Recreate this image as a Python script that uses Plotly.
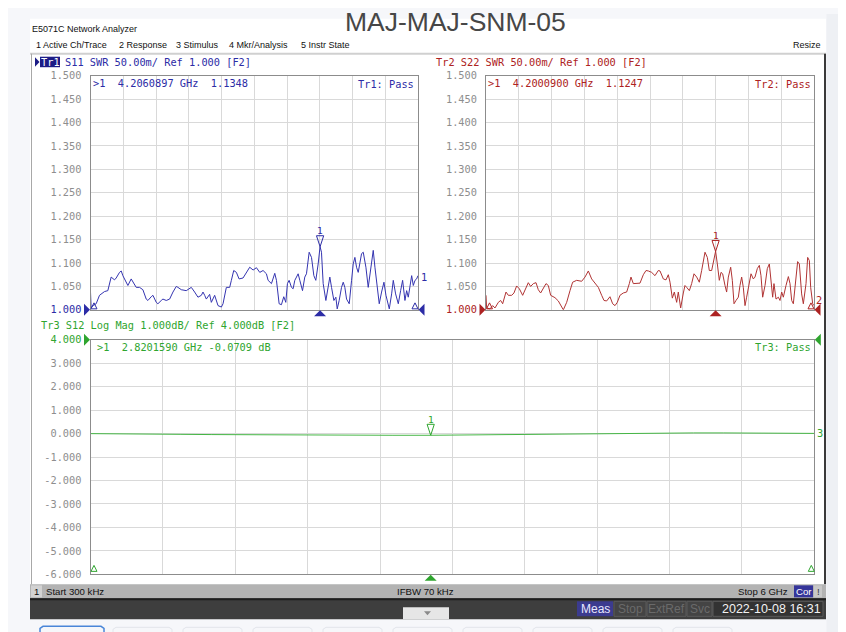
import plotly.graph_objects as go

W, H = 846, 632
OFF = 8          # the page body adds an 8px margin
YS, YB = 0.9817, 5.4   # observed vertical mapping of the photographed page (page y -> picture y)

# ---------------- data ----------------
s11_freq_ghz = [0.0003, 0.012, 0.043, 0.104, 0.165, 0.257, 0.318, 0.349, 0.379, 0.440, 0.471, 0.532, 0.563,
                0.593, 0.654, 0.685, 0.746, 0.777, 0.838, 0.899, 0.960, 1.021, 1.052, 1.113, 1.144, 1.205,
                1.235, 1.297, 1.327, 1.388, 1.450, 1.511, 1.572, 1.602, 1.664, 1.755, 1.816, 1.847, 1.908,
                1.969, 2.031, 2.061, 2.092, 2.122, 2.183, 2.214, 2.275, 2.336, 2.398, 2.428, 2.489, 2.550,
                2.581, 2.624, 2.673, 2.722, 2.795, 2.856, 2.917, 2.979, 3.040, 3.101, 3.162, 3.223, 3.254,
                3.315, 3.376, 3.407, 3.456, 3.498, 3.541, 3.578, 3.608, 3.639, 3.682, 3.712, 3.743, 3.774,
                3.804, 3.835, 3.884, 3.926, 3.957, 4.006, 4.049, 4.092, 4.128, 4.171, 4.206, 4.232, 4.263,
                4.312, 4.355, 4.385, 4.416, 4.459, 4.495, 4.520, 4.556, 4.599, 4.630, 4.660, 4.691, 4.740,
                4.783, 4.813, 4.844, 4.874, 4.905, 4.966, 4.997, 5.046, 5.088, 5.119, 5.150, 5.180, 5.211,
                5.254, 5.290, 5.333, 5.376, 5.413, 5.474, 5.517, 5.547, 5.590, 5.639, 5.682, 5.718, 5.761,
                5.792, 5.822, 5.853, 5.884, 5.914, 5.945, 5.975, 6.000]
s11_swr = [1.038, 1.004, 1.009, 1.013, 1.031, 1.039, 1.041, 1.056, 1.070, 1.064, 1.068, 1.080, 1.083,
           1.073, 1.059, 1.052, 1.066, 1.059, 1.048, 1.048, 1.043, 1.023, 1.020, 1.028, 1.031, 1.016,
           1.013, 1.020, 1.023, 1.020, 1.023, 1.038, 1.050, 1.048, 1.043, 1.041, 1.045, 1.048, 1.038,
           1.027, 1.031, 1.038, 1.031, 1.023, 1.033, 1.016, 1.031, 1.009, 1.006, 1.013, 1.048, 1.048,
           1.063, 1.084, 1.080, 1.066, 1.068, 1.080, 1.091, 1.085, 1.090, 1.080, 1.084, 1.077, 1.063,
           1.056, 1.078, 1.063, 1.013, 1.011, 1.028, 1.016, 1.056, 1.063, 1.048, 1.045, 1.063, 1.070,
           1.077, 1.063, 1.041, 1.070, 1.077, 1.123, 1.112, 1.073, 1.063, 1.098, 1.135, 1.123, 1.056,
           1.020, 1.048, 1.070, 1.048, 1.020, 1.027, 1.002, 1.020, 1.048, 1.059, 1.048, 1.023, 1.013,
           1.063, 1.098, 1.112, 1.091, 1.080, 1.120, 1.123, 1.091, 1.048, 1.077, 1.105, 1.127, 1.091,
           1.048, 1.013, 1.038, 1.059, 1.031, 1.002, 1.034, 1.063, 1.034, 1.013, 1.041, 1.063, 1.020,
           1.041, 1.027, 1.048, 1.073, 1.052, 1.063, 1.066, 1.073]

s22_freq_ghz = [0.0003, 0.012, 0.073, 0.122, 0.165, 0.226, 0.268, 0.305, 0.366, 0.409, 0.470, 0.512, 0.561,
                0.610, 0.671, 0.713, 0.774, 0.817, 0.866, 0.915, 0.957, 1.000, 1.049, 1.098, 1.140, 1.183,
                1.262, 1.323, 1.415, 1.476, 1.537, 1.585, 1.659, 1.750, 1.811, 1.872, 1.933, 1.994, 2.055,
                2.116, 2.159, 2.207, 2.268, 2.317, 2.360, 2.402, 2.451, 2.512, 2.573, 2.622, 2.652, 2.695,
                2.756, 2.817, 2.878, 2.927, 2.970, 3.030, 3.091, 3.152, 3.183, 3.244, 3.293, 3.335, 3.366,
                3.409, 3.445, 3.488, 3.518, 3.561, 3.610, 3.640, 3.671, 3.720, 3.762, 3.805, 3.854, 3.902,
                3.945, 4.006, 4.049, 4.085, 4.128, 4.171, 4.200, 4.232, 4.268, 4.299, 4.329, 4.372, 4.402,
                4.433, 4.476, 4.506, 4.537, 4.573, 4.616, 4.646, 4.677, 4.707, 4.738, 4.768, 4.817, 4.848,
                4.890, 4.921, 4.963, 5.000, 5.030, 5.061, 5.104, 5.146, 5.183, 5.207, 5.244, 5.268, 5.305,
                5.348, 5.378, 5.409, 5.439, 5.488, 5.531, 5.561, 5.592, 5.622, 5.671, 5.701, 5.732, 5.774,
                5.805, 5.854, 5.884, 5.915, 5.939, 5.976, 6.000]
s22_swr = [1.031, 1.004, 1.002, 1.009, 1.004, 1.016, 1.020, 1.013, 1.038, 1.031, 1.031, 1.036, 1.051,
           1.045, 1.031, 1.041, 1.058, 1.050, 1.056, 1.058, 1.043, 1.036, 1.045, 1.056, 1.052, 1.031,
           1.026, 1.019, 1.000, 1.016, 1.041, 1.059, 1.063, 1.061, 1.070, 1.083, 1.066, 1.057, 1.048,
           1.031, 1.020, 1.019, 1.028, 1.013, 1.009, 1.016, 1.031, 1.036, 1.038, 1.056, 1.070, 1.056,
           1.056, 1.057, 1.075, 1.084, 1.083, 1.080, 1.073, 1.084, 1.083, 1.066, 1.064, 1.075, 1.059,
           1.025, 1.038, 1.016, 1.038, 1.004, 1.036, 1.052, 1.048, 1.041, 1.056, 1.077, 1.070, 1.059,
           1.084, 1.123, 1.112, 1.084, 1.084, 1.105, 1.125, 1.098, 1.063, 1.080, 1.077, 1.052, 1.038,
           1.070, 1.091, 1.063, 1.013, 1.020, 1.027, 1.052, 1.070, 1.048, 1.009, 1.027, 1.059, 1.077,
           1.066, 1.070, 1.088, 1.095, 1.073, 1.027, 1.052, 1.088, 1.098, 1.070, 1.027, 1.056, 1.023,
           1.027, 1.020, 1.038, 1.027, 1.052, 1.071, 1.056, 1.020, 1.013, 1.066, 1.103, 1.098, 1.034,
           1.013, 1.056, 1.112, 1.105, 1.048, 1.013, 1.009]

s12_freq_ghz = [0.0003, 0.25, 0.5, 0.75, 1.0, 1.25, 1.5, 1.75, 2.0, 2.25, 2.5, 2.82, 3.0, 3.25, 3.5,
                3.75, 4.0, 4.25, 4.5, 4.75, 5.0, 5.25, 5.5, 5.75, 6.0]
s12_db = [0.00, -0.02, -0.03, -0.03, -0.04, -0.05, -0.05, -0.06, -0.06, -0.06, -0.07, -0.07, -0.06, -0.04,
          -0.03, -0.01, 0.00, 0.01, 0.02, 0.02, 0.03, 0.03, 0.02, 0.02, 0.01]

f_start, f_stop = 0.0003, 6.0
swr_ticks = [1.500, 1.450, 1.400, 1.350, 1.300, 1.250, 1.200, 1.150, 1.100, 1.050, 1.000]
db_ticks = [4, 3, 2, 1, 0, -1, -2, -3, -4, -5, -6]

mk_s11 = (4.2060897, 1.1348)
mk_s22 = (4.2000900, 1.1247)
mk_s12 = (2.8201590, -0.0709)

# ---------------- styling ----------------
BLUE = '#2c2ca6'
RED = '#ad2222'
GREEN = '#2fa52f'
BLUE_T = '#3434b0'
RED_T = '#b03434'
GREEN_T = '#45b545'
GRID = '#d9d9d9'
FRAME = '#8c8c8c'
TICKC = '#8e8e8e'
MONO = 'DejaVu Sans Mono'
SANS = 'Liberation Sans'
MS = 10.3
SS = 9.0

P1 = dict(x0=90.5, x1=418, y0=75, y1=309.3, yr=(1.0, 1.5))
P2 = dict(x0=486, x1=814, y0=75, y1=309.3, yr=(1.0, 1.5))
P3 = dict(x0=90.5, x1=814.3, y0=339.3, y1=574, yr=(-6, 4))

XMIN, XMAX = OFF, 846
YMIN, YMAX = OFF * YS + YB + 0.1, (OFF + H) * YS + YB - 0.3


def cx(x):
    return min(max(x, XMIN), XMAX)


def cy(y):
    return min(max(y, YMIN), YMAX)


def pxx(x):
    return (cx(x) - OFF) / W


def pyy(y):
    yp = (cy(y) - YB) / YS
    return 1 - (yp - OFF) / H


xgrid = [f_start + i * (f_stop - f_start) / 10 for i in range(11)]


def xax(P, anchor):
    return dict(domain=[pxx(P['x0']), pxx(P['x1'])], range=[f_start, f_stop], tickvals=xgrid,
                showticklabels=False, ticks='', showgrid=True, gridcolor=GRID, gridwidth=1,
                zeroline=False, showline=True, linecolor=FRAME, linewidth=1, mirror=True,
                anchor=anchor, fixedrange=True)


def yax(P, tv, tt, anchor):
    return dict(domain=[pyy(P['y1']), pyy(P['y0'])], range=list(P['yr']), tickvals=tv, ticktext=tt,
                ticks='', showgrid=True, gridcolor=GRID, gridwidth=1, zeroline=False, showline=True,
                linecolor=FRAME, linewidth=1, mirror=True,
                tickfont=dict(family=MONO, size=MS, color=TICKC), ticklabelstandoff=6,
                anchor=anchor, fixedrange=True)


def colored(s, c):
    return f'<span style="color:{c}">{s}</span>'


swr_text1 = [f'{v:.3f}' if v != 1.0 else colored(f'{v:.3f}', BLUE) for v in swr_ticks]
swr_text2 = [f'{v:.3f}' if v != 1.0 else colored(f'{v:.3f}', RED) for v in swr_ticks]
db_text = [f'{v:.3f}' if v != 4 else colored(f'{v:.3f}', GREEN) for v in db_ticks]

fig = go.Figure()
fig.add_trace(go.Scatter(x=s11_freq_ghz, y=s11_swr, xaxis='x', yaxis='y', mode='lines',
                         line=dict(color=BLUE_T, width=1), hoverinfo='skip'))
fig.add_trace(go.Scatter(x=s22_freq_ghz, y=s22_swr, xaxis='x2', yaxis='y2', mode='lines',
                         line=dict(color=RED_T, width=1), hoverinfo='skip'))
fig.add_trace(go.Scatter(x=s12_freq_ghz, y=s12_db, xaxis='x3', yaxis='y3', mode='lines',
                         line=dict(color=GREEN_T, width=1), hoverinfo='skip'))

shapes = []
ann = []


def rect(x0, y0, x1, y1, fill, line=None, lw=0, layer='below'):
    shapes.append(dict(type='rect', xref='paper', yref='paper', x0=pxx(x0), x1=pxx(x1),
                       y0=pyy(y1), y1=pyy(y0), fillcolor=fill,
                       line=dict(width=lw, color=line if line else fill), layer=layer))


def hline(x0, x1, y, color, lw=1):
    shapes.append(dict(type='line', xref='paper', yref='paper', x0=pxx(x0), x1=pxx(x1),
                       y0=pyy(y), y1=pyy(y), line=dict(color=color, width=lw), layer='below'))


def vline(x, y0, y1, color, lw=1, layer='below'):
    shapes.append(dict(type='line', xref='paper', yref='paper', x0=pxx(x), x1=pxx(x),
                       y0=pyy(y0), y1=pyy(y1), line=dict(color=color, width=lw), layer=layer))


def poly(pts, fill, line=None, lw=1, closed=True, layer='above'):
    d = 'M ' + ' L '.join(f'{pxx(a):.5f},{pyy(b):.5f}' for a, b in pts) + (' Z' if closed else '')
    shapes.append(dict(type='path', xref='paper', yref='paper', path=d,
                       fillcolor=fill if fill else 'rgba(0,0,0,0)',
                       line=dict(color=line if line else fill, width=lw if line else 0), layer=layer))


def txt(x, y, s, size=10, color='#000', family=SANS, xanchor='left', yanchor='middle'):
    ann.append(dict(x=pxx(x), y=pyy(y), xref='paper', yref='paper', text=s, showarrow=False,
                    xanchor=xanchor, yanchor=yanchor, borderpad=0,
                    font=dict(size=size, color=color, family=family)))


# ---------- page / window chrome ----------
rect(30, 18, 826, 584, '#ffffff')
hline(30, 826, 53, '#d0d0d0', 2)
vline(31.5, 53, 584, '#a8a8a8', 1)
vline(825, 53, 584, '#3a3a3a', 2)
rect(826.5, 8, 846, 640, '#eef0f4')

# status bars
rect(30, 584, 826, 598, '#b3b3b3')
rect(31, 585, 42, 597, '#d2d2d2')
rect(794, 585, 813, 597, '#35359a')
rect(814, 585, 822, 597, '#c8c8c8')
rect(30, 598, 826, 619, '#3e3e3e')
hline(30, 826, 599, '#1e1e1e', 2)
rect(577, 601, 613, 616, '#3b3b8f')
rect(614, 601, 646, 616, '#444444', '#5a5a5a', 1)
rect(647, 601, 686, 616, '#444444', '#5a5a5a', 1)
rect(687, 601, 712, 616, '#444444', '#5a5a5a', 1)
rect(713, 601, 823, 616, '#333333', '#5a5a5a', 1)
rect(403, 607, 449, 619, '#e6e6e6')
poly([(424, 611), (431, 611), (427.5, 615)], '#8a8a8a')

# tab outlines below (open at the picture's bottom edge)
poly([(40, 640), (40, 628), (43, 626), (101, 626), (104, 628), (104, 640)], None, '#4a86d8', 1.5,
     closed=False, layer='below')
for i in range(9):
    x0 = 113 + 70 * i
    poly([(x0, 640), (x0, 629), (x0 + 3, 627), (x0 + 56, 627), (x0 + 59, 629), (x0 + 59, 640)], None,
         '#e2e5eb', 1, closed=False, layer='below')

# header highlight for Tr1
rect(40, 56, 60, 66.5, '#1c1c86')
poly([(35, 56.5), (39.5, 61.3), (35, 66)], '#1c1c86')


# ---------- triangles / markers ----------
def edge_tris(P, yline, color):
    poly([(P['x0'] - 6.5, yline - 6), (P['x0'] - 0.5, yline), (P['x0'] - 6.5, yline + 6)], color)
    poly([(P['x1'] + 6.5, yline - 6), (P['x1'] + 0.5, yline), (P['x1'] + 6.5, yline + 6)], color)


edge_tris(P1, P1['y1'], BLUE)
edge_tris(P2, P2['y1'], RED)
edge_tris(P3, P3['y0'], GREEN)


def small_up(x, ybase, color):
    poly([(x - 3, ybase), (x, ybase - 6), (x + 3, ybase)], None, color, 1)


small_up(P1['x0'] + 3.5, P1['y1'] - 1, BLUE)
small_up(P1['x1'] - 3, P1['y1'] - 1, BLUE)
small_up(P2['x0'] + 3.5, P2['y1'] - 1, RED)
small_up(P2['x1'] - 3, P2['y1'] - 1, RED)
small_up(P3['x0'] + 3.5, P3['y1'] - 3, GREEN)
small_up(P3['x1'] - 3, P3['y1'] - 3, GREEN)


def marker(P, xref, yref, mk, color):
    f, v = mk
    sx = (f_stop - f_start) / (P['x1'] - P['x0'])
    sy = (P['yr'][1] - P['yr'][0]) / (P['y1'] - P['y0'])
    d = f'M {f},{v} L {f - 3.6 * sx},{v + 11 * sy} L {f + 3.6 * sx},{v + 11 * sy} Z'
    shapes.append(dict(type='path', xref=xref, yref=yref, path=d, fillcolor='rgba(0,0,0,0)',
                       line=dict(color=color, width=1), layer='above'))
    ann.append(dict(x=f, y=v, xref=xref, yref=yref, text='1', showarrow=False, xanchor='center',
                    yanchor='middle', yshift=16, font=dict(family=MONO, size=9.5, color=color)))
    yb = P['y1']
    d2 = (f'M {f},{pyy(yb + 0.5)} L {f - 6 * sx},{pyy(yb + 6.5)} L {f + 6 * sx},{pyy(yb + 6.5)} Z')
    shapes.append(dict(type='path', xref=xref, yref='paper', path=d2, fillcolor=color,
                       line=dict(color=color, width=0), layer='above'))


marker(P1, 'x', 'y', mk_s11, BLUE)
marker(P2, 'x2', 'y2', mk_s22, RED)
marker(P3, 'x3', 'y3', mk_s12, GREEN)

# trace-end labels
ann.append(dict(x=s11_freq_ghz[-1], y=s11_swr[-1], xref='x', yref='y', text='1', showarrow=False,
                xanchor='left', xshift=1, yshift=-1, font=dict(family=MONO, size=MS, color=BLUE)))
ann.append(dict(x=s22_freq_ghz[-1], y=s22_swr[-1], xref='x2', yref='y2', text='2', showarrow=False,
                xanchor='left', xshift=0, yshift=6, font=dict(family=MONO, size=MS, color=RED)))
ann.append(dict(x=s12_freq_ghz[-1], y=s12_db[-1], xref='x3', yref='y3', text='3', showarrow=False,
                xanchor='left', xshift=1, font=dict(family=MONO, size=MS, color=GREEN)))

# ---------- texts ----------
txt(455, 21.5, 'MAJ-MAJ-SNM-05', 26.5, '#474747', SANS, 'center')
txt(31, 28.5, 'E5071C Network Analyzer', SS, '#111', SANS)
for x, s in [(35, '1 Active Ch/Trace'), (118, '2 Response'), (175, '3 Stimulus'), (228, '4 Mkr/Analysis'),
             (300, '5 Instr State')]:
    txt(x, 44.5, s, SS, '#111', SANS)
txt(822, 44.5, 'Resize', SS, '#111', SANS, 'right')

txt(50, 61.5, 'Tr1', MS, '#ffffff', MONO, 'center')
txt(64, 61.5, 'S11 SWR 50.00m/ Ref 1.000 [F2]', MS, BLUE, MONO)
txt(435, 61.5, 'Tr2 S22 SWR 50.00m/ Ref 1.000 [F2]', MS, RED, MONO)
txt(39.5, 324.5, 'Tr3 S12 Log Mag 1.000dB/ Ref 4.000dB [F2]', MS, GREEN, MONO)

txt(92, 82.5, f'&gt;1  {mk_s11[0]:.7f} GHz  {mk_s11[1]:.4f}', MS, BLUE, MONO)
txt(415, 83.5, 'Tr1: Pass', MS, BLUE, MONO, 'right')
txt(487, 82.5, f'&gt;1  {mk_s22[0]:.7f} GHz  {mk_s22[1]:.4f}', MS, RED, MONO)
txt(811.5, 83.5, 'Tr2: Pass', MS, RED, MONO, 'right')
txt(96, 346, f'&gt;1  {mk_s12[0]:.7f} GHz {mk_s12[1]:.4f} dB', MS, GREEN, MONO)
txt(811.5, 346.5, 'Tr3: Pass', MS, GREEN, MONO, 'right')

# status text
txt(33, 591.5, '1', 9.6, '#111', SANS)
txt(45, 591.5, 'Start 300 kHz', 9.6, '#111', SANS)
txt(396, 591.5, 'IFBW 70 kHz', 9.6, '#111', SANS)
txt(789, 591.5, 'Stop 6 GHz', 9.6, '#111', SANS, 'right')
txt(803.5, 591.5, 'Cor', 9.6, '#ffffff', SANS, 'center')
txt(818, 591.5, '!', 9.6, '#333', SANS, 'center')
txt(595, 608.5, 'Meas', 12, '#e8e8ff', SANS, 'center')
txt(630, 608.5, 'Stop', 12, '#6a6a6a', SANS, 'center')
txt(666.5, 608.5, 'ExtRef', 12, '#6a6a6a', SANS, 'center')
txt(699.5, 608.5, 'Svc', 12, '#6a6a6a', SANS, 'center')
txt(822, 608.5, '2022-10-08 16:31', 12.5, '#f2f2f2', SANS, 'right')

fig.update_layout(
    width=W, height=H, margin=dict(l=0, r=0, t=0, b=0),
    paper_bgcolor='#f6f7fa', plot_bgcolor='rgba(0,0,0,0)', showlegend=False,
    xaxis=xax(P1, 'y'), yaxis=yax(P1, swr_ticks, swr_text1, 'x'),
    xaxis2=xax(P2, 'y2'), yaxis2=yax(P2, swr_ticks, swr_text2, 'x2'),
    xaxis3=xax(P3, 'y3'), yaxis3=yax(P3, db_ticks, db_text, 'x3'),
    shapes=shapes, annotations=ann,
)

fig.write_html('out.html')
